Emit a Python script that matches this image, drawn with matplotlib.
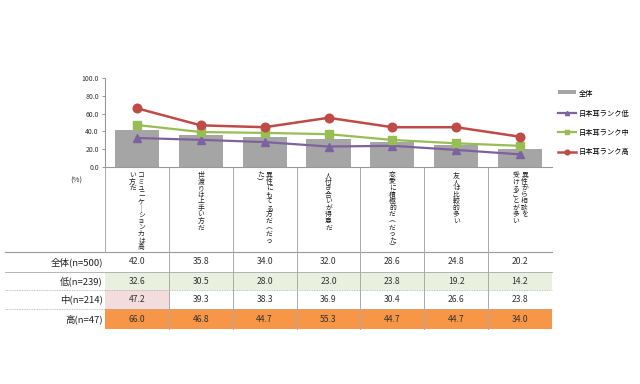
import numpy as np
import matplotlib
matplotlib.use("Agg")
import matplotlib.pyplot as plt

plt.rcParams['font.family'] = ['Noto Sans CJK JP', 'DejaVu Sans']

# vertical label text, one list entry per text column (right to left)
category_lines = [
    ["コミュニケーション力は高", "い方だ"],
    ["世渡りは上手い方だ"],
    ["異性にもてる方だ（だっ", "た）"],
    ["人付き合いが得意だ"],
    ["恋愛に積極的だ（だった）"],
    ["友人は比較的多い"],
    ["異性から相談を", "受けることが多い"],
]
total = [42.0, 35.8, 34.0, 32.0, 28.6, 24.8, 20.2]
low = [32.6, 30.5, 28.0, 23.0, 23.8, 19.2, 14.2]
mid = [47.2, 39.3, 38.3, 36.9, 30.4, 26.6, 23.8]
high = [66.0, 46.8, 44.7, 55.3, 44.7, 44.7, 34.0]
legend_names = ["全体", "日本耳ランク低", "日本耳ランク中", "日本耳ランク高"]
row_names = ["全体(n=500)", "低(n=239)", "中(n=214)", "高(n=47)"]
yticks = [0, 20, 40, 60, 80, 100]

W, H = 640, 384
fig = plt.figure(figsize=(6.4, 3.84), dpi=100)
fig.patch.set_facecolor("white")

# chart area in pixels
x0, x1 = 105, 552
y_bot, y_top = 167, 78
ax = fig.add_axes([x0 / W, 1 - y_bot / H, (x1 - x0) / W, (y_bot - y_top) / H])
x = np.arange(len(total))
b = ax.bar(x, total, width=0.69, color="#a5a5a5", label=legend_names[0], zorder=1)
l1, = ax.plot(x, low, color="#7d62a0", lw=1.6, marker="^", ms=5.5, label=legend_names[1], zorder=3)
l2, = ax.plot(x, mid, color="#97bd55", lw=1.6, marker="s", ms=5.5, label=legend_names[2], zorder=3)
l3, = ax.plot(x, high, color="#be4b48", lw=1.8, marker="o", ms=6.2, label=legend_names[3], zorder=4)
ax.set_xlim(-0.5, len(total) - 0.5)
ax.set_ylim(0, 100)
ax.set_yticks(yticks)
ax.set_yticklabels([f"{v:.1f}" for v in yticks], fontsize=5, color="#333333")
ax.set_xticks([])
ax.tick_params(axis="y", length=2.5, width=0.6, color="#888888", pad=2)
for s in ["top", "right"]:
    ax.spines[s].set_visible(False)
for s in ["left", "bottom"]:
    ax.spines[s].set_color("#999999")
    ax.spines[s].set_linewidth(0.8)

leg = ax.legend([b, l1, l2, l3], legend_names, loc="upper left",
                bbox_to_anchor=(551 / W, 1 - 84 / H),
                bbox_transform=fig.transFigure, frameon=False, fontsize=5.2,
                handlelength=2.6, labelspacing=1.55, handletextpad=0.35,
                markerscale=0.55)
leg.legend_handles[0].set_height(3)
leg.legend_handles[0].set_y(leg.legend_handles[0].get_y() + 1.5)

# table area: x in category units (shared mapping), y in pixels
tb = fig.add_axes([0, 0, 1, 1], zorder=-1)
tb.set_facecolor("none")
tb.axis("off")
px = (x1 - x0) / len(total)
tb.set_xlim(-0.5 - x0 / px, len(total) - 0.5 + (W - x1) / px)
tb.set_ylim(H, 0)

row_edges = [252, 272, 290, 309, 329]
fills = [
    ["white"] * 7,
    ["#e9f0e0"] * 7,
    ["#f3dcdc"] + ["white"] * 6,
    ["#f79646"] * 7,
]
rows = [total, low, mid, high]
for r, vals in enumerate(rows):
    ytop, ybot = row_edges[r], row_edges[r + 1]
    for i, v in enumerate(vals):
        tb.fill_between([i - 0.5, i + 0.5], ytop, ybot, color=fills[r][i], lw=0)
        tb.text(i, (ytop + ybot) / 2, f"{v:.1f}", ha="center", va="center",
                fontsize=6.2, color="#333333")
    tb.text(-0.5 - 2 / px, (ytop + ybot) / 2, row_names[r], ha="right", va="center",
            fontsize=6.8, color="#222222")

left_edge = -0.5 - 100 / px
tb.plot([left_edge, len(total) - 0.5], [252, 252], color="#999999", lw=0.8)
tb.plot([left_edge, len(total) - 0.5], [272, 272], color="#aaaaaa", lw=0.6)
for yy in [290, 309]:
    tb.plot([left_edge, len(total) - 0.5], [yy, yy], color="#aaaaaa", lw=0.6, ls=(0, (1, 1)))
tb.plot([-0.5, -0.5], [y_bot, 252], color="#aaaaaa", lw=0.7)
for i in range(len(total) - 1):
    tb.plot([i + 0.5, i + 0.5], [y_bot, 329], color="#aaaaaa", lw=0.7)

# vertical category labels
vert = {"ー": "｜", "（": "︵", "）": "︶"}
for i, cols in enumerate(category_lines):
    n = len(cols)
    for j, line in enumerate(cols):
        xo = i + (n - 1) / 2 * 0.14 - j * 0.14
        s = "\n".join(vert.get(c, c) for c in line)
        tb.text(xo, 171, s, ha="center", va="top", fontsize=4.9,
                linespacing=0.76, color="#222222")

fig.text(70 / W, 1 - 181 / H, "(%)", fontsize=5.5, color="#333333", va="center")

fig.savefig("out.png", dpi=100, facecolor="white")
